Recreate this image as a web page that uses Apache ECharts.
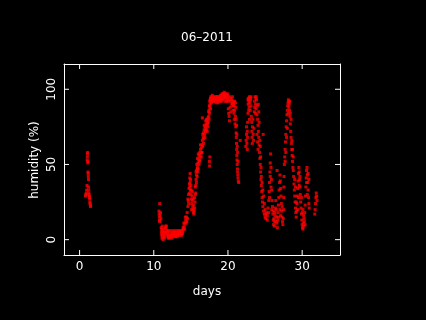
<!DOCTYPE html>
<html>
<head>
<meta charset="utf-8">
<script src="https://cdn.jsdelivr.net/npm/echarts@6/dist/echarts.min.js"></script>
<style>
  html, body { margin: 0; padding: 0; background: #000; }
  #chart { width: 426px; height: 320px; }
</style>
</head>
<body>
<div id="chart"></div>
<script>
// tick labels
var xTicks = [0, 10, 20, 30]
var yTicks = [0, 50, 100]

// humidity readings [day, %], split by the gaps in the record
var run1 = [[0.8,29],[0.85,30],[0.9,31],[0.95,33],[1.0,36],[1.03,53],[1.05,55],[1.07,57],[1.09,58],[1.1,52],
  [1.12,51],[1.14,45],[1.16,44],[1.18,42],[1.2,40],[1.21,35],[1.23,33],[1.25,31],[1.27,30],[1.3,29],
  [1.33,28],[1.36,27],[1.39,25],[1.42,24],[1.45,23],[1.48,22]]

var run2 = [[10.8,24],[10.7,19],[10.72,17],[10.75,15],[10.78,13],[10.8,12],[10.85,16],[10.9,18],[10.95,14],
  [11.0,8],[11.03,5],[11.06,3],[11.1,1],[11.13,4],[11.16,6],[11.2,2],[11.25,0],[11.3,3],[11.35,5],[11.4,2],
  [11.45,1],[11.5,4],[11.55,8],[11.6,9],[11.65,7],[11.7,5],[11.75,3],[11.8,6],[11.85,4],[11.9,2],[11.95,1],
  [12.0,2],[12.1,3],[12.2,2],[12.3,4],[12.4,3],[12.5,5],[12.6,4],[12.7,3],[12.8,2],[12.9,3],[13.0,4],
  [13.1,3],[13.2,5],[13.3,4],[13.4,3],[13.5,4],[13.6,5],[13.7,4],[13.8,6],[13.9,5],
  [11.05,7],[11.15,9],[11.3,7],[11.45,5],[11.7,9],[11.9,6],[12.05,5],[12.15,1],[12.25,6],[12.35,2],
  [12.45,1],[12.55,3],[12.65,6],[12.75,5],[12.85,5],[12.95,2],[13.05,6],[13.15,2],[13.25,3],[13.35,6],
  [13.45,5],[13.55,3],[13.65,6],[13.75,3],[13.85,4],[13.95,8],
  [14.0,7],[14.1,9],[14.2,11],[14.3,13],[14.4,15],[14.5,18],[14.6,22],[14.65,26],[14.7,30],[14.75,34],
  [14.8,37],[14.85,41],[14.9,38],[14.95,33],[15.0,30],[15.05,27],[15.1,24],[15.15,29],[15.2,26],[15.25,22],
  [15.3,20],[15.35,18],[15.4,17],[15.45,19],[15.5,21],[15.55,25],[15.6,30],[15.65,36],[15.7,40],[15.75,43],
  [15.8,46],[15.85,42],[15.9,48],[15.95,51],[16.0,47],[16.05,53],[16.1,56],[16.15,52],[16.2,58],[16.25,55],
  [16.3,60],[16.35,57],[16.4,61],[16.45,58],[16.5,63],[16.55,66],[16.55,81],[16.6,62],[16.65,68],[16.7,71],
  [16.75,67],[16.8,73],[16.85,70],[16.9,75],[16.95,72],[17.0,74],[17.05,77],[17.1,73],[17.15,76],[17.2,79],
  [17.25,77],[17.3,81],[17.35,78],[17.4,82],[17.45,86],[17.5,89],[17.5,52],[17.52,49],[17.55,55],
  [17.55,92],[17.6,93],
  [14.05,11],[14.15,7],[14.25,15],[14.35,11],[14.45,12],[14.55,14],[14.6,27],[14.7,24],[14.8,31],[14.85,35],
  [14.9,44],[14.95,40],[15.0,36],[15.05,33],[15.1,20],[15.2,32],[15.3,27],[15.4,23],[15.5,28],[15.6,35],
  [15.65,31],[15.7,45],[15.75,38],[15.8,50],[15.85,47],[15.9,54],[15.95,45],[16.0,57],[16.1,50],[16.2,53],
  [16.3,63],[16.4,55],[16.5,58],[16.6,70],[16.7,64],[16.8,76],[16.9,68],[17.0,79],[17.1,80],[17.2,72],
  [17.3,75],[17.4,85],[17.45,80],[17.5,84],[17.55,88],[17.6,90],[17.65,87]]

var run3 = [[17.65,94],[17.7,92],[17.75,94],[17.8,93],[17.85,95],[17.9,93],[18.0,94],[18.1,93],[18.2,94],
  [18.3,93],[18.4,94],[18.5,92],[18.6,93],[18.7,94],[18.8,93],[18.9,92],[19.0,93],[19.1,95],[19.2,94],
  [19.3,96],[19.4,97],[19.5,98],[19.55,96],[19.6,95],[19.7,97],[19.8,95],[19.9,94],[20.0,96],[20.05,87],
  [20.1,84],[20.15,82],[20.2,79],[20.1,93],[20.2,95],[20.3,92],[20.3,88],[20.4,85],[20.4,94],[20.5,93],
  [20.6,91],[20.65,89],[20.7,86],[20.75,90],[20.8,84],[20.85,80],[20.9,86],[20.95,77],[21.0,82],[21.05,75],
  [21.1,71],[21.12,68],[21.15,64],[21.18,60],[21.2,56],[21.22,53],[21.25,50],[21.28,47],[21.3,45],
  [21.33,43],[21.36,41],[21.4,39],[21.45,38],[21.65,66],
  [17.7,95],[17.8,91],[17.9,96],[18.0,92],[18.1,95],[18.2,92],[18.3,95],[18.4,91],[18.5,95],[18.6,95],
  [18.7,91],[18.8,95],[18.9,94],[19.0,96],[19.1,92],[19.2,97],[19.3,93],[19.4,94],[19.5,95],[19.6,92],
  [19.7,94],[19.8,92],[19.9,97],[20.0,92],[20.5,90],[20.6,95],[20.7,92],[20.8,89],[20.9,92],[21.0,91],
  [21.05,88],[21.1,80],[21.15,76],[21.2,70],[21.25,62],[21.3,58],[21.35,52]]

var run4 = [[22.4,62],[22.45,66],[22.5,70],[22.55,64],[22.6,60],[22.62,68],[22.65,78],[22.7,84],[22.72,90],
  [22.75,94],[22.8,92],[22.85,88],[22.9,95],[22.95,91],[23.0,86],[23.05,93],[23.1,89],[23.15,82],[23.2,78],
  [23.22,72],[23.25,68],[23.28,64],[23.3,75],[23.35,80],[23.4,70],[23.45,66],[23.5,74],[23.55,85],[23.6,92],
  [23.65,95],[23.7,90],[23.75,94],[23.8,87],[23.85,93],[23.9,83],[23.9,70],[23.95,89],[24.0,80],[24.0,65],
  [24.05,76],[24.05,60],[24.1,72],[24.15,68],[24.2,63],[24.25,58],[24.3,54],[24.35,50],[24.4,45],[24.45,40],
  [24.5,36],[24.55,32],[24.6,28],[24.65,25],[24.7,22],[24.75,70],[24.8,19],[24.9,17],[25.0,15],[25.1,14],
  [25.2,18],[25.3,16],[25.4,21],[25.5,26],[25.55,32],[25.6,38],[25.65,45],[25.7,51],[25.75,57],[25.8,48],
  [25.85,40],[25.9,33],[25.95,26],
  [22.5,75],[22.6,72],[22.7,93],[22.8,86],[22.9,80],[23.0,94],[23.1,95],[23.6,88],[23.7,84],[23.8,95],
  [24.1,90],[24.15,85],[24.2,78],[24.3,66],[24.35,62],[24.4,55],[24.45,48],[24.5,42],[24.6,38],[24.7,33],
  [24.8,29],[24.9,24],[25.0,20],[25.1,17],[25.3,13],[25.5,18],[25.6,28],[25.7,42],[25.8,35],[25.9,20]]

var run5 = [[26.0,22],[26.05,17],[26.1,13],[26.15,10],[26.2,14],[26.25,9],[26.3,12],[26.35,16],[26.4,21],
  [26.45,26],[26.5,20],[26.55,15],[26.6,11],[26.62,46],[26.65,8],[26.7,13],[26.75,18],[26.8,23],[26.85,28],
  [26.9,33],[26.95,38],[27.0,43],[27.05,39],[27.1,34],[27.15,29],[27.2,24],[27.25,19],[27.3,15],[27.35,12],
  [27.4,10],[27.45,14],[27.5,20],[27.52,28],[27.54,35],[27.56,42],
  [27.6,50],[27.65,55],[27.7,60],[27.75,65],[27.8,70],[27.85,75],[27.9,79],[27.95,83],[28.0,86],[28.05,89],
  [28.1,91],[28.15,93],[28.2,92],[28.25,90],[28.3,86],[28.35,82],[28.4,77],[28.45,72],[28.5,68],[28.55,64],
  [28.6,60],[28.65,56],[28.7,52],[28.75,48],[28.8,46],[28.85,42],[28.9,37],[28.95,33],[29.0,29],[29.05,25],
  [29.1,21],[29.15,18],[29.2,15],[29.25,19],[29.3,24],[29.35,29],[29.4,34],[29.45,39],[29.5,44],[29.55,48],
  [29.6,45],[29.65,40],[29.7,35],[29.75,30],[29.8,25],[29.85,21],[29.9,17],[29.95,13],[30.0,10],[30.05,8],
  [30.1,7],[30.1,20],[30.15,11],[30.2,9],[30.25,14],[30.3,12],[30.35,18],[30.4,23],[30.45,29],[30.5,35],
  [30.55,41],[30.6,46],[30.65,48],[30.7,43],[30.75,38],[30.8,33],[30.85,28],[30.9,24],[30.95,21],
  [31.7,17],[31.75,20],[31.8,24],[31.85,28],[31.9,31],[31.95,29],[32.0,26],
  [26.1,19],[26.3,18],[26.5,12],[26.8,15],[27.0,20],[27.1,16],[27.3,22],[27.7,52],[27.8,58],[27.9,68],
  [28.0,74],[28.1,84],[28.2,88],[28.3,92],[28.4,84],[28.5,80],[28.6,66],[28.7,60],[28.8,55],[29.0,40],
  [29.1,35],[29.2,25],[29.4,20],[29.5,28],[29.6,36],[29.7,42],[29.9,28],[30.0,18],[30.2,16],[30.4,10],
  [30.6,38],[30.7,30],[30.8,44],[30.9,40]]

var chart = echarts.init(document.getElementById('chart'))
var font = 'DejaVu Sans'
var textStyle = {color: '#fff', fontFamily: font, fontSize: 12, fontWeight: 'normal'}

// every side of the box is an axis line
function boxAxis(ticks, labelColor) {
  return {
    axisLine: {show: true, onZero: false, lineStyle: {color: '#fff'}},
    splitLine: {show: false},
    axisTick: {show: false},
    axisLabel: {show: true, customValues: ticks, color: labelColor, fontFamily: font, fontSize: 12}
  }
}

var xBottom = Object.assign(boxAxis(xTicks, '#fff'), {
  type: 'value', min: -2.1, max: 35.1, position: 'bottom'
})
xBottom.axisLabel.margin = 6
var xTop = Object.assign(boxAxis(xTicks, 'rgba(0,0,0,0)'), {
  type: 'value', min: -2.1, max: 35.1, position: 'top'
})
var yLeft = Object.assign(boxAxis(yTicks, '#fff'), {
  type: 'value', min: -10.2, max: 116.8, position: 'left'
})
yLeft.axisLabel.rotate = 90
yLeft.axisLabel.margin = 6
var yRight = Object.assign(boxAxis(yTicks, 'rgba(0,0,0,0)'), {
  type: 'value', min: -10.2, max: 116.8, position: 'right'
})

// inward ticks on all four sides, placed through the axis scales
var tickData = xTicks.map(function (v) { return [0, v] })
  .concat(yTicks.map(function (v) { return [1, v] }))

function renderTicks(params, api) {
  var cs = params.coordSys
  var kind = api.value(0)
  var v = api.value(1)
  var segs = []
  if (kind === 0) {
    var px = api.coord([v, 0])[0]
    segs.push([px, cs.y + cs.height, px, cs.y + cs.height - 5], [px, cs.y, px, cs.y + 5])
  } else {
    var py = api.coord([0, v])[1]
    segs.push([cs.x, py, cs.x + 5, py], [cs.x + cs.width, py, cs.x + cs.width - 5, py])
  }
  return {
    type: 'group',
    children: segs.map(function (s) {
      return {type: 'line', shape: {x1: s[0], y1: s[1], x2: s[2], y2: s[3]},
        style: {stroke: '#fff', lineWidth: 1}}
    })
  }
}

chart.setOption({
  backgroundColor: '#000',
  animation: false,
  // main title and x-axis title
  title: [
    {text: '06–2011', left: 202, top: 27, textAlign: 'center', textStyle: textStyle},
    {text: 'days', left: 202, top: 281, textAlign: 'center', textStyle: textStyle}
  ],
  // y-axis title, reading bottom to top
  graphic: [{
    type: 'text', x: 35, y: 160, rotation: Math.PI / 2,
    style: {text: 'humidity (%)', fill: '#fff', font: '12px "DejaVu Sans"',
      align: 'center', verticalAlign: 'middle'}
  }],
  grid: {left: 64, right: 86, top: 64, bottom: 65},
  xAxis: [xBottom, xTop],
  yAxis: [yLeft, yRight],
  series: [{
    type: 'scatter',
    symbol: 'rect',
    symbolSize: [3, 3],
    itemStyle: {color: '#ff0000'},
    data: run1.concat(run2, run3, run4, run5)
  }, {
    type: 'custom',
    silent: true,
    clip: false,
    z: 3,
    renderItem: renderTicks,
    data: tickData
  }]
})
</script>
</body>
</html>
